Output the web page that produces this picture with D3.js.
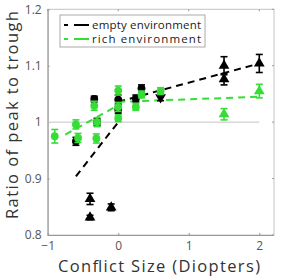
<!DOCTYPE html>
<html><head><meta charset="utf-8">
<script src="https://cdn.jsdelivr.net/npm/d3@7"></script>
<style>body{margin:0;background:#fff}svg{display:block}</style>
</head><body><svg id="c" width="281" height="277"></svg>
<script>
// data
const xTicks = [-1, 0, 1, 2];
const xTickLabels = ["\u22121", "0", "1", "2"];
const yTicks = [0.8, 0.9, 1.0, 1.1, 1.2];
const yTickLabels = ["0.8", "0.9", "1", "1.1", "1.2"];

const emptyX = [-0.6, -0.4, -0.4, -0.34, -0.3, -0.1, 0, 0, 0.25, 0.33, 0.6, 1.5, 1.5, 2.0];
const emptyY = [0.966, 0.864, 0.831, 1.041, 1.0, 0.849, 1.04, 1.022, 1.042, 1.06, 1.044, 1.1, 1.076, 1.104];
const emptyErr = [0.007, 0.01, 0.004, 0.005, 0.006, 0.006, 0.008, 0.006, 0.006, 0.006, 0.006, 0.016, 0.01, 0.016];
const emptyShape = ["c","t","t","c","c","t","c","c","c","c","d","t","t","t"];

const richX = [-0.9, -0.6, -0.57, -0.34, -0.3, -0.31, 0, 0, 0, 0.25, 0.33, 0.6, 1.5, 2.0];
const richY = [0.975, 0.996, 0.972, 1.029, 1.0, 0.971, 1.056, 1.027, 1.007, 1.027, 1.049, 1.055, 1.014, 1.055];
const richErr = [0.012, 0.008, 0.008, 0.008, 0.008, 0.008, 0.008, 0.008, 0.006, 0.006, 0.006, 0.006, 0.01, 0.012];
const richShape = ["c","c","c","c","c","c","c","c","c","c","c","c","t","t"];

const emptyFitLowX = [-0.6, 0], emptyFitLowY = [0.904, 1.0];
const emptyFitHighX = [0, 2], emptyFitHighY = [1.036, 1.104];
const richFitLowX = [-0.75, 0], richFitLowY = [0.978, 1.03];
const richFitHighX = [0, 2], richFitHighY = [1.036, 1.045];

const seriesNames = ["empty environment", "rich environment"];
const colEmpty = "#000000", colRich = "#36dd36";

const svg = d3.select("#c");
const L = 47.7, R = 274, T = 9.3, B = 235;
const x = d3.scaleLinear().domain([-1, 2.2]).range([L, L + 3.2 * 70.53]);
const y = d3.scaleLinear().domain([0.8, 1.2]).range([B, T]);
const font = "'Open Sans', 'DejaVu Sans', sans-serif";

// box
svg.append("rect").attr("x", L).attr("y", T).attr("width", R - L).attr("height", B - T)
  .attr("fill", "none").attr("stroke", "#c4c4c4").attr("stroke-width", 1);
// axes
const xa = svg.append("g").attr("transform", `translate(0,${B})`)
  .call(d3.axisBottom(x).tickValues(xTicks).tickFormat((d, i) => xTickLabels[i]).tickSizeInner(-2).tickSizeOuter(0).tickPadding(6));
const ya = svg.append("g").attr("transform", `translate(${L},0)`)
  .call(d3.axisLeft(y).tickValues(yTicks).tickFormat((d, i) => yTickLabels[i]).tickSizeInner(-2).tickSizeOuter(0).tickPadding(6));
[xa, ya].forEach(a => {
  a.select(".domain").attr("stroke", "#999");
  a.selectAll(".tick line").attr("stroke", "#999");
  a.selectAll("text").attr("fill", "#555").attr("font-size", 12).attr("font-family", font);
});
// top/right ticks
svg.append("g").selectAll("line").data(xTicks).join("line")
  .attr("x1", d => x(d)).attr("x2", d => x(d)).attr("y1", T).attr("y2", T + 2).attr("stroke", "#999");
svg.append("g").selectAll("line").data(yTicks).join("line")
  .attr("x1", R).attr("x2", R - 2).attr("y1", d => y(d)).attr("y2", d => y(d)).attr("stroke", "#999");

// reference line at 1
svg.append("line").attr("x1", x(-1)).attr("x2", x(2)).attr("y1", y(1)).attr("y2", y(1))
  .attr("stroke", "#c4c4c4").attr("stroke-width", 1);

// fits
const line = d3.line().x(d => x(d[0])).y(d => y(d[1]));
function fit(xs, ys, col) {
  svg.append("path").attr("d", line(xs.map((v, i) => [v, ys[i]])))
    .attr("fill", "none").attr("stroke", col).attr("stroke-width", 2).attr("stroke-dasharray", "7,5");
}
fit(emptyFitLowX, emptyFitLowY, colEmpty);
fit(emptyFitHighX, emptyFitHighY, colEmpty);
fit(richFitLowX, richFitLowY, colRich);
fit(richFitHighX, richFitHighY, colRich);

// points
const symMap = { c: d3.symbol().type(d3.symbolCircle).size(48),
  t: d3.symbol().type(d3.symbolTriangle).size(50),
  d: d3.symbol().type(d3.symbolTriangle).size(50) };
function points(xs, ys, es, sh, col) {
  const g = svg.append("g");
  xs.forEach((xv, i) => {
    const px = x(xv), y0 = y(ys[i] - es[i]), y1 = y(ys[i] + es[i]);
    g.append("line").attr("x1", px).attr("x2", px).attr("y1", y0).attr("y2", y1).attr("stroke", col).attr("stroke-width", 1.6);
    [y0, y1].forEach(yy => g.append("line").attr("x1", px - 3.5).attr("x2", px + 3.5).attr("y1", yy).attr("y2", yy).attr("stroke", col).attr("stroke-width", 1.6));
    g.append("path").attr("d", symMap[sh[i]]())
      .attr("transform", `translate(${px},${y(ys[i])})` + (sh[i] === "d" ? " rotate(180)" : ""))
      .attr("fill", col);
  });
}
points(emptyX, emptyY, emptyErr, emptyShape, colEmpty);
points(richX, richY, richErr, richShape, colRich);

// legend
const lg = svg.append("g");
lg.append("rect").attr("x", 60).attr("y", 15).attr("width", 145).attr("height", 32)
  .attr("fill", "#fff").attr("stroke", "#aaa").attr("stroke-width", 1);
[colEmpty, colRich].forEach((c, i) => {
  const yy = 25 + i * 14;
  lg.append("line").attr("x1", 62).attr("x2", 89).attr("y1", yy).attr("y2", yy)
    .attr("stroke", c).attr("stroke-width", 2).attr("stroke-dasharray", "0,2,4,6,15");
  lg.append("text").attr("x", 92).attr("y", yy + 4).text(seriesNames[i])
    .attr("font-family", font).attr("font-size", 11.5).attr("fill", "#222")
    .attr("textLength", 109).attr("lengthAdjust", "spacing");
});

// axis labels
svg.append("text").attr("x", (58 + 260) / 2).attr("y", 271.5).attr("text-anchor", "middle")
  .attr("font-family", font).attr("font-size", 16.5).attr("fill", "#333")
  .attr("textLength", 202).attr("lengthAdjust", "spacing").text("Conflict Size (Diopters)");
svg.append("text").attr("transform", `translate(17.5,${(10 + 220) / 2}) rotate(-90)`).attr("text-anchor", "middle")
  .attr("font-family", font).attr("font-size", 16.5).attr("fill", "#333")
  .attr("textLength", 208).attr("lengthAdjust", "spacing").text("Ratio of peak to trough");
</script></body></html>
